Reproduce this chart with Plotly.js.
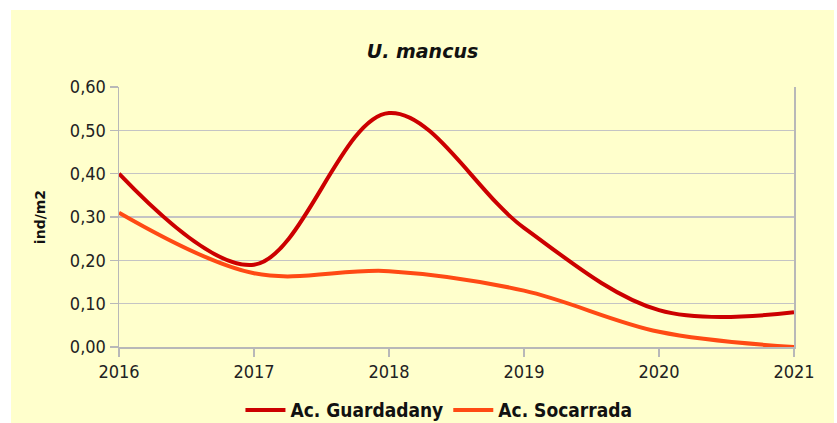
<!DOCTYPE html>
<html>
<head>
<meta charset="utf-8">
<script src="https://cdn.plot.ly/plotly-3.0.1.min.js"></script>
<style>
  html, body { margin: 0; padding: 0; background: #ffffff; width: 837px; height: 423px; overflow: hidden; }
  #chart { position: absolute; left: 11px; top: 10px; width: 823px; height: 413px; }
</style>
</head>
<body>
<div id="chart"></div>
<script>
const years = [2016, 2017, 2018, 2019, 2020, 2021];
const guardadany = [0.40, 0.19, 0.54, 0.275, 0.085, 0.08];
const socarrada = [0.31, 0.17, 0.175, 0.13, 0.035, 0.00];
const seriesNames = ["Ac. Guardadany", "Ac. Socarrada"];
const yTicks = [0, 0.1, 0.2, 0.3, 0.4, 0.5, 0.6];

const narrow = "DejaVu Sans Condensed, Liberation Sans Narrow, sans-serif";
const tickFont = { family: narrow, size: 18, color: "#222222" };

const traces = [
  { x: years, y: guardadany, name: seriesNames[0], type: "scatter", mode: "lines",
    line: { color: "#CC0000", width: 4, shape: "spline", smoothing: 1 } },
  { x: years, y: socarrada, name: seriesNames[1], type: "scatter", mode: "lines",
    line: { color: "#FF4A14", width: 4, shape: "spline", smoothing: 1 } }
];

const layout = {
  width: 823, height: 413,
  paper_bgcolor: "#FFFFCC", plot_bgcolor: "#FFFFCC",
  separators: ", ",
  margin: { l: 108, r: 40, t: 77, b: 76, autoexpand: false },
  title: { text: "<b><i>U. mancus</i></b>", x: 0.5, xref: "container", xanchor: "center", y: 0.9, yanchor: "middle",
    font: { family: "DejaVu Sans, Verdana, sans-serif", size: 19, color: "#111111" } },
  xaxis: {
    range: [2016, 2021], tickvals: years, ticktext: years.map(String),
    showgrid: false, zeroline: false,
    showline: true, linecolor: "#B8B8B8", linewidth: 1.5,
    ticks: "outside", ticklen: 8, tickcolor: "#B8B8B8", tickwidth: 1.5,
    tickfont: tickFont, fixedrange: true
  },
  yaxis: {
    range: [0, 0.6], tickvals: yTicks, tickformat: ".2f",
    showgrid: true, gridcolor: "#C4C4C4", gridwidth: 1.5, zeroline: false,
    showline: true, mirror: true, linecolor: "#B8B8B8", linewidth: 1.5,
    ticks: "outside", ticklen: 8, tickcolor: "#B8B8B8", tickwidth: 1.5,
    tickfont: tickFont,
    title: { text: "<b>ind/m2</b>", standoff: 21,
      font: { family: "DejaVu Sans, Verdana, sans-serif", size: 14, color: "#111111" } },
    fixedrange: true
  },
  legend: {
    orientation: "h", x: 0.474, xanchor: "center", y: -0.17, yanchor: "top",
    bgcolor: "rgba(0,0,0,0)",
    font: { family: narrow, size: 19, color: "#111111", weight: "bold" },
    itemwidth: 40, tracegroupgap: 0
  },
  showlegend: true
};

Plotly.newPlot("chart", traces, layout, { displayModeBar: false, staticPlot: true });
</script>
</body>
</html>
